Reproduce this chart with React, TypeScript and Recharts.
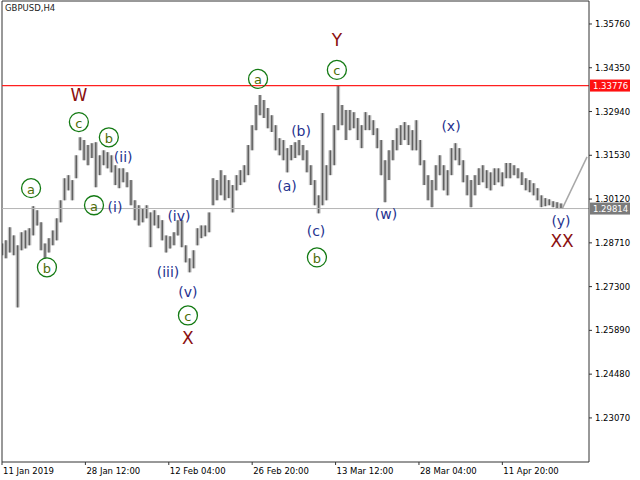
import { ComposedChart, Bar, Line, Scatter, XAxis, YAxis, ReferenceLine } from "recharts";

// H4 bar number of every third bar (bar 0 = 11 Jan 2019)
const lows = [
  1.2831, 1.2821, 1.284, 1.2831, 1.2663, 1.2847, 1.2853, 1.2863, 1.2895, 1.2927,
  1.2847, 1.2821, 1.284, 1.2863, 1.2879, 1.2937, 1.3008, 1.304, 1.3008, 1.3079,
  1.3169, 1.3137, 1.3121, 1.3144, 1.305, 1.3089, 1.3121, 1.3111, 1.3098, 1.3057,
  1.3047, 1.3066, 1.305, 1.2992, 1.2944, 1.2927, 1.2937, 1.295, 1.2857, 1.2927,
  1.2918, 1.2879, 1.284, 1.2853, 1.2863, 1.2895, 1.2857, 1.2808, 1.2776, 1.2789,
  1.2863, 1.2886, 1.2892, 1.2905, 1.2992, 1.3008, 1.3024, 1.3008, 1.3015, 1.2969,
  1.304, 1.3057, 1.3066, 1.3089, 1.3169, 1.3234, 1.3282, 1.3273, 1.324, 1.3228,
  1.3169, 1.3153, 1.3137, 1.3098, 1.3137, 1.3144, 1.3153, 1.3137, 1.3098, 1.3057,
  1.2992, 1.2966, 1.2992, 1.3008, 1.3089, 1.3121, 1.3234, 1.325, 1.3202, 1.3234,
  1.324, 1.3202, 1.3176, 1.3234, 1.3234, 1.3218, 1.3176, 1.3089, 1.3002, 1.3073,
  1.3137, 1.3169, 1.3186, 1.3202, 1.3186, 1.3169, 1.3169, 1.3121, 1.3057, 1.3008,
  1.2986, 1.304, 1.3089, 1.304, 1.3024, 1.3089, 1.3137, 1.3121, 1.3066, 1.3024,
  1.2986, 1.3024, 1.3057, 1.3066, 1.3047, 1.304, 1.3057, 1.3066, 1.3053, 1.3079,
  1.3079, 1.3089, 1.3079, 1.3057, 1.304, 1.3034, 1.3024, 1.3008, 1.2986, 1.2989,
  1.2992, 1.2986, 1.2982, 1.2982,
];
const highs = [
  1.2869, 1.2879, 1.2921, 1.2895, 1.2863, 1.2905, 1.2911, 1.2918, 1.2989, 1.2976,
  1.2937, 1.2869, 1.2886, 1.2911, 1.295, 1.3008, 1.3079, 1.3089, 1.3073, 1.3153,
  1.3211, 1.3202, 1.3186, 1.3192, 1.3195, 1.3153, 1.3169, 1.3163, 1.3153, 1.3121,
  1.3111, 1.3111, 1.3098, 1.3073, 1.3008, 1.2992, 1.2982, 1.2992, 1.2969, 1.2976,
  1.296, 1.2944, 1.2895, 1.2892, 1.2905, 1.2944, 1.2944, 1.2863, 1.2821, 1.2847,
  1.2918, 1.2927, 1.2927, 1.2969, 1.3079, 1.3073, 1.3105, 1.3089, 1.3073, 1.3057,
  1.3089, 1.3105, 1.3121, 1.3186, 1.325, 1.3315, 1.3347, 1.3331, 1.3305, 1.3282,
  1.325, 1.3208, 1.3202, 1.3176, 1.3186, 1.3195, 1.3202, 1.3186, 1.3169, 1.3121,
  1.3073, 1.3024, 1.3289, 1.3121, 1.3169, 1.325, 1.3378, 1.3315, 1.3299, 1.3299,
  1.3292, 1.3273, 1.325, 1.3292, 1.3282, 1.3266, 1.324, 1.3202, 1.3137, 1.3169,
  1.3202, 1.324, 1.325, 1.326, 1.325, 1.3234, 1.3266, 1.3202, 1.3137, 1.3089,
  1.3073, 1.3121, 1.3153, 1.3121, 1.3105, 1.3176, 1.3192, 1.3176, 1.3137, 1.3089,
  1.3073, 1.3089, 1.3111, 1.3121, 1.3105, 1.3098, 1.3111, 1.3111, 1.3098, 1.3128,
  1.3128, 1.3121, 1.3111, 1.3098, 1.3079, 1.3073, 1.3063, 1.3047, 1.3024, 1.3015,
  1.3011, 1.3005, 1.3002, 1.2998,
];

const dateTicks = [0, 64, 128, 192, 256, 320, 384];
const dateLabels = ["11 Jan 2019", "28 Jan 12:00", "12 Feb 04:00", "26 Feb 20:00", "13 Mar 12:00", "28 Mar 04:00", "11 Apr 20:00"];
const priceTicks = [1.2307, 1.2448, 1.2589, 1.273, 1.2871, 1.3012, 1.3153, 1.3294, 1.3435, 1.3576];

const resistance = 1.33776;
const lastPrice = 1.29814;

const forecastT = [430, 449];
const forecastP = [1.2981, 1.3148];

const waveText = ["W", "c", "b", "(ii)", "a", "a", "(i)", "(iv)", "b", "(iii)", "(v)", "c", "X", "a", "Y", "c", "(b)", "(a)", "(c)", "b", "(w)", "(x)", "(y)", "XX"];
const waveT = [59, 59, 82, 93, 22.3, 70.6, 86.7, 135.8, 34.5, 127.4, 142.7, 142.7, 142.7, 196.5, 257, 257, 229.5, 218.7, 241, 241.7, 294.7, 344.6, 429, 429.8];
const waveP = [1.3347, 1.326, 1.3211, 1.3147, 1.3047, 1.2992, 1.2985, 1.2957, 1.2792, 1.2776, 1.2714, 1.2637, 1.2566, 1.3399, 1.3524, 1.3428, 1.3231, 1.3053, 1.2908, 1.2824, 1.2963, 1.3247, 1.294, 1.2876];
const waveKind = ["major", "minor", "minor", "minute", "minor", "minor", "minute", "minute", "minor", "minute", "minute", "minor", "major", "minor", "major", "minor", "minute", "minute", "minute", "minor", "minute", "minute", "minute", "major"];

const bars = lows.map((lo, i) => ({ t: i * 3, lo, hi: highs[i] }));
const forecast = forecastT.map((t, i) => ({ t, p: forecastP[i] }));
const waves = waveText.map((text, i) => ({ t: waveT[i], p: waveP[i], text, kind: waveKind[i] }));

const font = "DejaVu Sans";

function WaveLabel(props: any) {
  const { cx, cy, payload } = props;
  if (payload.kind === "minor") {
    return (
      <g>
        <circle cx={cx} cy={cy} r={9.5} fill="none" stroke="#137a13" strokeWidth={1.3} />
        <text x={cx} y={cy + 1} textAnchor="middle" dominantBaseline="central" fontFamily={font} fontSize={13} fill="#4f6e0a">
          {payload.text}
        </text>
      </g>
    );
  }
  const major = payload.kind === "major";
  return (
    <text x={cx} y={cy} textAnchor="middle" dominantBaseline="central" fontFamily={font} fontSize={major ? 17 : 14} fill={major ? "#8b1010" : "#25328f"}>
      {payload.text}
    </text>
  );
}

// one group of H4 bars: pale body with a darker high-low stroke
function HiLoBar(props: any) {
  const { x, y, width, height } = props;
  const cx = x + width / 2;
  const h = Math.max(height, 1);
  return (
    <g>
      <rect x={cx - 2} y={y} width={4} height={h} fill="#c4c4c4" />
      <line x1={cx} x2={cx} y1={y} y2={y + h} stroke="#606060" strokeWidth={1.5} />
    </g>
  );
}

function priceTag(value: number, color: string) {
  return (props: any) => {
    const vb = props.viewBox;
    const x = vb.x + vb.width + 1;
    return (
      <g>
        <rect x={x} y={vb.y - 6} width={40} height={12} fill={color} />
        <text x={x + 3} y={vb.y} dominantBaseline="central" fontFamily={font} fontSize={8.5} fill="#fff">
          {value.toFixed(5)}
        </text>
      </g>
    );
  };
}

export default function App() {
  return (
    <div style={{ position: "absolute", left: 0, top: 0, width: 640, height: 480, background: "#fff" }}>
      <ComposedChart width={640} height={480} data={bars} margin={{ top: 1, right: 0, bottom: 0, left: 2 }}>
        <XAxis
          dataKey="t"
          type="number"
          domain={[0, 450.5]}
          allowDataOverflow
          ticks={dateTicks}
          interval={0}
          height={18}
          axisLine={{ stroke: "#333" }}
          tickLine={{ stroke: "#333" }}
          tickSize={3}
          tick={({ x, y, payload }: any) => (
            <text x={x + 1} y={y + 7} fontFamily={font} fontSize={8.5} fill="#000">
              {dateLabels[dateTicks.indexOf(payload.value)]}
            </text>
          )}
        />
        <YAxis
          orientation="right"
          type="number"
          domain={[1.2165, 1.365]}
          allowDataOverflow
          ticks={priceTicks}
          interval={0}
          width={51}
          axisLine={{ stroke: "#333" }}
          tickLine={{ stroke: "#333" }}
          tickSize={3}
          tick={({ x, y, payload }: any) => (
            <text x={x + 1} y={y} dominantBaseline="central" fontFamily={font} fontSize={8.5} fill="#000">
              {payload.value.toFixed(5)}
            </text>
          )}
        />
        <ReferenceLine x={0} stroke="#333" />
        <ReferenceLine y={1.365} stroke="#333" />
        <ReferenceLine y={lastPrice} stroke="#b4b4b4" label={priceTag(lastPrice, "#7b7b7b")} />
        <Bar dataKey={(d: any) => [d.lo, d.hi]} fill="#606060" barSize={3} shape={HiLoBar} isAnimationActive={false} />
        <ReferenceLine y={resistance} stroke="#ff2020" strokeWidth={1.2} label={priceTag(resistance, "#ff1010")} />
        <Line data={forecast} dataKey="p" stroke="#a8a8a8" strokeWidth={1.5} dot={false} isAnimationActive={false} />
        <Scatter data={waves} dataKey="p" shape={WaveLabel} isAnimationActive={false} />
      </ComposedChart>
      <div style={{ position: "absolute", left: 5, top: 3, fontFamily: font, fontSize: 8.5, color: "#222" }}>GBPUSD,H4</div>
    </div>
  );
}
